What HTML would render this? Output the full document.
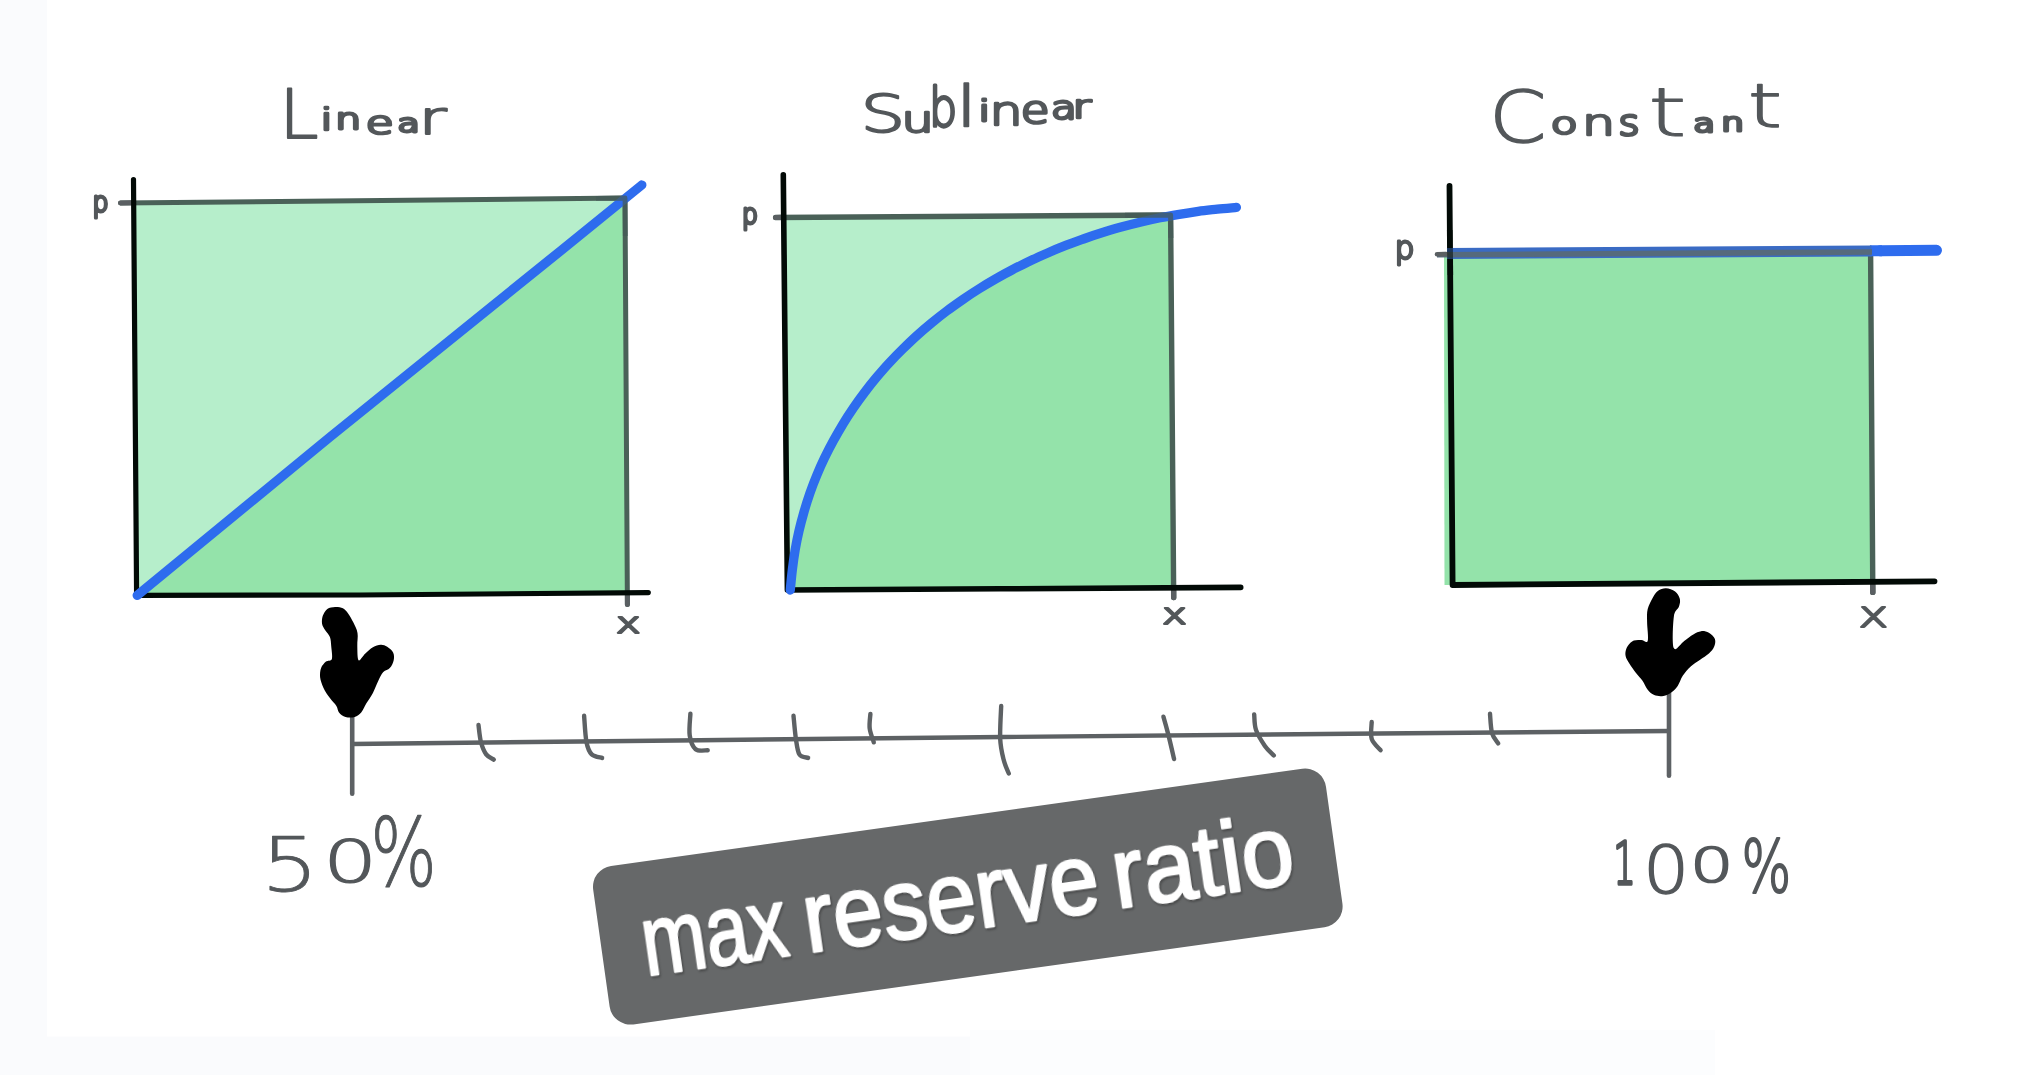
<!DOCTYPE html>
<html lang="en"><head><meta charset="utf-8"><title>max reserve ratio</title>
<style>
html,body{margin:0;padding:0;background:#fff;}
body{width:2022px;height:1075px;overflow:hidden;}
svg{display:block;}
</style></head>
<body>
<svg width="2022" height="1075" viewBox="0 0 2022 1075">
<rect width="2022" height="1075" fill="#fafbfd"/>
<rect x="47" y="0" width="1975" height="1036.5" fill="#ffffff"/>
<rect x="970" y="1030" width="745" height="45" fill="#fcfdfe"/>
<rect x="1715" y="1030" width="307" height="45" fill="#ffffff"/>
<path d="M136.5,595 L134.3,202.6 L625,198 L627.6,592.8 Z" fill="#b6eecb"/>
<path d="M137,595.5 L330,437 L494,304.6 L560,251.8 L625,198.6 L627.6,592.8 Z" fill="#94e3aa"/>
<path d="M120.5,203 L625,198 L627.4,604.5" fill="none" stroke="#4a6158" stroke-width="5" stroke-linecap="round" stroke-linejoin="round"/>
<path d="M120.5,203 L132,202.8" stroke="#5a5f62" stroke-width="5" stroke-linecap="round"/>
<path d="M627.4,596 L627.4,604.5" stroke="#5a5f62" stroke-width="5" stroke-linecap="round"/>
<path d="M133.5,179.6 L136.6,595.4 L360,595 L648.3,592.6" fill="none" stroke="#020a06" stroke-width="5.2" stroke-linecap="round" stroke-linejoin="round"/>
<path d="M137.2,595.3 L330,437 L494,304.6 L560,251.3 L641.8,185" fill="none" stroke="#2e6cee" stroke-width="9.3" stroke-linecap="round" stroke-linejoin="round"/>
<path d="M596,198.3 L625,198 L625.3,236" fill="none" stroke="#455a58" stroke-width="4.8" stroke-linejoin="round" opacity="0.72"/>
<path d="M788,590 L784.6,217.3 L1171,215 L1173.6,587.6 Z" fill="#b6eecb"/>
<path d="M790.3,590.0 C790.6,586.7 791.5,576.7 792.3,570.1 C793.1,563.5 794.0,556.8 795.1,550.3 C796.2,543.8 797.5,537.3 799.0,530.9 C800.5,524.5 802.2,518.2 804.0,511.9 C805.8,505.6 807.8,499.4 809.9,493.3 C812.0,487.2 814.3,481.1 816.8,475.2 C819.3,469.2 821.9,463.4 824.7,457.6 C827.5,451.8 830.4,446.1 833.5,440.5 C836.6,434.9 839.8,429.3 843.1,423.8 C846.5,418.3 850.0,413.0 853.6,407.7 C857.2,402.4 860.9,397.2 864.8,392.1 C868.7,387.0 872.7,382.0 876.8,377.1 C880.9,372.2 885.1,367.3 889.5,362.6 C893.9,357.9 898.4,353.3 903.0,348.8 C907.6,344.3 912.2,339.8 917.0,335.5 C921.8,331.2 926.7,327.0 931.7,322.9 C936.7,318.8 941.7,314.8 946.9,310.9 C952.1,307.0 957.4,303.3 962.7,299.6 C968.1,295.9 973.5,292.3 979.0,288.9 C984.5,285.4 990.1,282.1 995.7,278.9 C1001.3,275.7 1007.0,272.5 1012.8,269.5 C1018.6,266.5 1024.5,263.5 1030.4,260.7 C1036.3,257.9 1042.2,255.3 1048.2,252.7 C1054.2,250.1 1060.3,247.6 1066.4,245.2 C1072.5,242.8 1078.6,240.7 1084.8,238.5 C1091.0,236.3 1097.2,234.2 1103.4,232.3 C1109.6,230.4 1115.9,228.5 1122.2,226.8 C1128.5,225.1 1134.8,223.5 1141.1,222.0 C1147.4,220.5 1156.9,218.5 1160.1,217.8 L1171.5,216 L1173.6,587.6 L790,590 Z" fill="#94e3aa"/>
<path d="M775.6,217.5 L1170.6,215 L1173.7,597.6" fill="none" stroke="#4a6158" stroke-width="5.4" stroke-linecap="round" stroke-linejoin="round"/>
<path d="M775.6,217.5 L781,217.4" stroke="#5a5f62" stroke-width="5.2" stroke-linecap="round"/>
<path d="M1173.7,591 L1173.7,597.6" stroke="#5a5f62" stroke-width="5.2" stroke-linecap="round"/>
<path d="M783.3,174.8 L785.5,400 L787.4,590 L1000,588.8 L1240.7,587.4" fill="none" stroke="#020a06" stroke-width="5.6" stroke-linecap="round" stroke-linejoin="round"/>
<path d="M790.3,590.0 C790.6,586.7 791.5,576.7 792.3,570.1 C793.1,563.5 794.0,556.8 795.1,550.3 C796.2,543.8 797.5,537.3 799.0,530.9 C800.5,524.5 802.2,518.2 804.0,511.9 C805.8,505.6 807.8,499.4 809.9,493.3 C812.0,487.2 814.3,481.1 816.8,475.2 C819.3,469.2 821.9,463.4 824.7,457.6 C827.5,451.8 830.4,446.1 833.5,440.5 C836.6,434.9 839.8,429.3 843.1,423.8 C846.5,418.3 850.0,413.0 853.6,407.7 C857.2,402.4 860.9,397.2 864.8,392.1 C868.7,387.0 872.7,382.0 876.8,377.1 C880.9,372.2 885.1,367.3 889.5,362.6 C893.9,357.9 898.4,353.3 903.0,348.8 C907.6,344.3 912.2,339.8 917.0,335.5 C921.8,331.2 926.7,327.0 931.7,322.9 C936.7,318.8 941.7,314.8 946.9,310.9 C952.1,307.0 957.4,303.3 962.7,299.6 C968.1,295.9 973.5,292.3 979.0,288.9 C984.5,285.4 990.1,282.1 995.7,278.9 C1001.3,275.7 1007.0,272.5 1012.8,269.5 C1018.6,266.5 1024.5,263.5 1030.4,260.7 C1036.3,257.9 1042.2,255.3 1048.2,252.7 C1054.2,250.1 1060.3,247.6 1066.4,245.2 C1072.5,242.8 1078.6,240.7 1084.8,238.5 C1091.0,236.3 1097.2,234.2 1103.4,232.3 C1109.6,230.4 1115.9,228.5 1122.2,226.8 C1128.5,225.1 1134.8,223.5 1141.1,222.0 C1147.4,220.5 1153.8,219.1 1160.1,217.8 C1166.4,216.5 1172.8,215.4 1179.2,214.3 C1185.6,213.2 1191.9,212.2 1198.3,211.3 C1204.7,210.4 1211.1,209.8 1217.4,209.1 C1223.8,208.4 1233.2,207.7 1236.4,207.4" fill="none" stroke="#2e6cee" stroke-width="9.3" stroke-linecap="round" stroke-linejoin="round"/>
<path d="M1125,215.3 L1170.6,215 L1170.9,238" fill="none" stroke="#455a58" stroke-width="5" stroke-linejoin="round" opacity="0.72"/>
<path d="M1444.5,585 L1444,254 L1871,251 L1873,581.5 Z" fill="#94e3aa"/>
<path d="M1870.6,252 L1872.8,592.4" fill="none" stroke="#4a6158" stroke-width="5.4" stroke-linecap="round"/>
<path d="M1872.7,585 L1872.8,592.4" stroke="#5a5f62" stroke-width="5.4" stroke-linecap="round"/>
<path d="M1449.5,186 L1452.6,585 L1934.5,581.3" fill="none" stroke="#020a06" stroke-width="5.8" stroke-linecap="round" stroke-linejoin="round"/>
<path d="M1880,250.7 L1936.5,250.3" stroke="#2e6cee" stroke-width="11" stroke-linecap="round"/>
<path d="M1870,250.8 L1882,250.7" stroke="#2e6cee" stroke-width="11" stroke-linecap="butt"/>
<path d="M1447,253.6 L1871.5,250.9" stroke="#3a6bc4" stroke-width="11" stroke-linecap="butt"/>
<path d="M1437,254.8 L1872,252" stroke="#566a7c" stroke-width="5.6" stroke-linecap="butt"/>
<path d="M1437,254.2 L1446,254.1" stroke="#5a5f62" stroke-width="4.6" stroke-linecap="round"/>
<path d="M1449.8,230 L1450.3,275" stroke="#020a06" stroke-width="5.8" opacity="0.55"/>
<path d="M352.2,712 L352.2,793.7" stroke="#5d6164" stroke-width="4.6" stroke-linecap="round"/>
<path d="M1669,690 L1669,775.7" stroke="#5d6164" stroke-width="4.6" stroke-linecap="round"/>
<path d="M352,744 L700,740.2 L1003,737 L1350,733.8 L1669,731" fill="none" stroke="#5d6164" stroke-width="4.4" stroke-linejoin="round"/>
<path d="M478.5,725.0 C478.9,727.9 479.7,737.4 481.0,742.3 C482.3,747.2 484.1,751.5 486.2,754.4 C488.3,757.3 492.5,758.7 493.8,759.6" fill="none" stroke="#5d6164" stroke-width="4.4" stroke-linecap="round" stroke-linejoin="round"/>
<path d="M584.1,715.7 C584.5,720.1 585.2,735.8 586.5,742.3 C587.8,748.8 589.1,751.8 591.7,754.4 C594.3,757.0 600.4,757.3 602.1,757.9" fill="none" stroke="#5d6164" stroke-width="4.4" stroke-linecap="round" stroke-linejoin="round"/>
<path d="M690.4,713.6 C690.3,717.2 688.8,729.5 689.7,735.4 C690.6,741.3 692.6,746.7 695.6,749.2 C698.6,751.7 705.7,750.1 707.7,750.3" fill="none" stroke="#5d6164" stroke-width="4.4" stroke-linecap="round" stroke-linejoin="round"/>
<path d="M793.5,715.7 C793.9,719.6 794.9,732.3 795.9,738.8 C796.9,745.2 797.4,751.2 799.4,754.4 C801.4,757.6 806.6,757.3 808.1,757.9" fill="none" stroke="#5d6164" stroke-width="4.4" stroke-linecap="round" stroke-linejoin="round"/>
<path d="M870.4,713.9 C870.3,716.3 869.1,723.8 869.7,728.5 C870.3,733.2 873.1,740.0 873.8,742.3" fill="none" stroke="#5d6164" stroke-width="4.4" stroke-linecap="round" stroke-linejoin="round"/>
<path d="M1001.2,706.0 C1001.0,711.5 999.8,729.9 1000.2,738.8 C1000.6,747.7 1002.2,753.8 1003.6,759.6 C1005.0,765.4 1007.9,771.2 1008.8,773.5" fill="none" stroke="#5d6164" stroke-width="4.4" stroke-linecap="round" stroke-linejoin="round"/>
<path d="M1163.4,716.7 C1164.2,719.5 1166.2,726.3 1168.0,733.4 C1169.8,740.5 1173.1,754.8 1174.1,759.1" fill="none" stroke="#5d6164" stroke-width="4.4" stroke-linecap="round" stroke-linejoin="round"/>
<path d="M1254.2,714.5 C1254.5,717.1 1254.2,724.7 1256.0,729.9 C1257.8,735.1 1261.9,741.6 1264.9,745.9 C1267.9,750.2 1272.3,753.9 1273.8,755.5" fill="none" stroke="#5d6164" stroke-width="4.4" stroke-linecap="round" stroke-linejoin="round"/>
<path d="M1371.7,722.0 C1371.7,724.8 1370.2,734.1 1371.7,738.8 C1373.2,743.5 1379.1,748.3 1380.6,750.2" fill="none" stroke="#5d6164" stroke-width="4.4" stroke-linecap="round" stroke-linejoin="round"/>
<path d="M1490.0,713.8 C1490.3,717.1 1490.7,728.5 1492.1,733.4 C1493.5,738.3 1497.2,741.7 1498.2,743.4" fill="none" stroke="#5d6164" stroke-width="4.4" stroke-linecap="round" stroke-linejoin="round"/>
<path d="M335.1,606.9 C332.5,607.0 329.4,607.4 327.3,608.9 C325.2,610.4 323.6,613.6 322.7,616.0 C321.9,618.5 321.7,621.5 322.1,623.9 C322.5,626.3 324.1,628.2 325.4,630.4 C326.7,632.5 328.9,634.3 329.9,636.9 C330.9,639.5 330.9,642.3 331.2,646.0 C331.5,649.7 332.7,656.4 331.9,659.0 C331.0,661.6 327.8,660.1 326.0,661.6 C324.2,663.2 322.0,665.5 321.1,668.1 C320.1,670.8 319.8,674.0 320.1,677.3 C320.5,680.5 321.8,684.2 323.4,687.7 C325.0,691.2 327.7,695.1 329.9,698.1 C332.1,701.1 334.9,703.5 336.4,705.9 C337.9,708.3 337.5,710.6 339.0,712.4 C340.5,714.3 342.9,716.2 345.5,717.0 C348.1,717.7 352.1,717.7 354.7,717.0 C357.3,716.2 359.2,714.7 361.2,712.4 C363.1,710.1 364.4,706.6 366.4,703.3 C368.3,700.1 370.9,696.6 372.9,692.9 C374.8,689.2 376.4,684.6 378.1,681.2 C379.8,677.7 381.4,674.2 383.3,672.1 C385.3,669.9 388.1,670.1 389.8,668.1 C391.6,666.2 393.2,662.9 393.7,660.3 C394.3,657.7 394.2,654.8 393.1,652.5 C392.0,650.2 389.3,648.0 387.2,646.7 C385.2,645.4 383.1,644.6 380.7,644.7 C378.3,644.8 375.5,645.8 372.9,647.3 C370.3,648.8 367.5,651.6 365.1,653.8 C362.7,656.0 359.9,661.6 358.6,660.3 C357.3,659.0 357.4,650.6 357.3,646.0 C357.1,641.4 358.2,636.9 357.5,633.0 C356.9,629.1 354.9,625.8 353.4,622.6 C351.8,619.3 349.9,615.8 348.1,613.4 C346.4,611.1 345.1,609.3 342.9,608.2 C340.8,607.1 337.7,606.8 335.1,606.9Z" fill="#000"/>
<path d="M1666.0,588.2 C1663.1,588.1 1660.3,589.3 1658.1,590.8 C1656.0,592.4 1654.7,594.3 1652.9,597.4 C1651.2,600.4 1648.7,604.9 1647.7,609.1 C1646.7,613.2 1647.1,616.8 1647.1,622.1 C1647.1,627.4 1648.7,638.0 1647.7,641.0 C1646.7,644.0 1643.8,640.0 1641.2,640.1 C1638.6,640.1 1634.5,640.0 1632.1,641.4 C1629.7,642.7 1627.7,645.7 1626.6,648.1 C1625.5,650.6 1625.1,653.4 1625.6,656.0 C1626.1,658.6 1627.8,661.0 1629.5,663.8 C1631.2,666.6 1633.8,670.1 1636.0,672.9 C1638.2,675.7 1640.6,677.9 1642.5,680.7 C1644.5,683.5 1645.8,687.4 1647.7,689.8 C1649.7,692.2 1651.6,694.0 1654.2,695.0 C1656.8,696.1 1660.5,696.4 1663.4,695.9 C1666.2,695.5 1668.8,694.1 1671.2,692.4 C1673.6,690.8 1675.7,688.7 1677.7,685.9 C1679.6,683.1 1680.7,678.8 1682.9,675.5 C1685.1,672.2 1687.9,669.0 1690.7,666.4 C1693.5,663.8 1696.8,662.0 1699.8,659.9 C1702.9,657.7 1706.6,655.5 1708.9,653.4 C1711.3,651.2 1713.2,649.2 1714.1,646.8 C1715.1,644.5 1715.8,641.4 1714.9,639.0 C1714.1,636.7 1711.2,634.1 1708.9,632.8 C1706.6,631.5 1703.7,630.9 1701.1,631.2 C1698.5,631.5 1696.1,632.8 1693.3,634.5 C1690.5,636.1 1687.4,638.7 1684.2,641.0 C1680.9,643.3 1675.5,652.2 1673.8,648.1 C1672.0,644.1 1672.9,623.8 1673.8,616.9 C1674.6,609.9 1678.0,609.5 1679.0,606.5 C1680.0,603.4 1680.4,601.1 1679.8,598.7 C1679.1,596.2 1677.4,593.2 1675.1,591.5 C1672.8,589.8 1668.8,588.3 1666.0,588.2Z" fill="#000"/>
<g transform="translate(967.8,896.6) rotate(-8)"><rect x="-370" y="-80" width="740" height="160" rx="21" ry="21" fill="#666869"/></g>
<g transform="translate(650.1,975.3) rotate(-8.15)" style="filter:drop-shadow(1.5px 2px 1.2px rgba(30,30,30,0.45))"><text aria-label="max reserve ratio" font-family="Liberation Sans, sans-serif" font-size="101" fill="#ffffff" stroke="#ffffff" stroke-width="2.6" stroke-linejoin="round" ><tspan x="-3.8" y="0.0" textLength="145.9" lengthAdjust="spacingAndGlyphs">max</tspan> <tspan x="159.6" y="0.0" textLength="297.6" lengthAdjust="spacingAndGlyphs">reserve</tspan> <tspan x="471.4" y="0.0" textLength="182.6" lengthAdjust="spacingAndGlyphs">ratio</tspan></text></g>
<text aria-label="Linear" opacity="0.999" font-family="DejaVu Sans Light, DejaVu Sans, Liberation Sans, sans-serif" font-weight="200" fill="#53575a" stroke="#53575a" stroke-linejoin="round" stroke-linecap="round"><tspan x="279.2" y="137.5" font-size="67.3" textLength="39.3" lengthAdjust="spacingAndGlyphs" stroke-width="1.8">L</tspan><tspan x="320.6" y="130.0" font-size="30.4" textLength="12.2" lengthAdjust="spacingAndGlyphs" stroke-width="2.7">i</tspan><tspan x="335.3" y="129.3" font-size="28.2" textLength="25.9" lengthAdjust="spacingAndGlyphs" stroke-width="2.8">n</tspan><tspan x="365.8" y="134.1" font-size="31.2" textLength="27.9" lengthAdjust="spacingAndGlyphs" stroke-width="2.7">e</tspan><tspan x="397.6" y="132.1" font-size="25.0" textLength="22.2" lengthAdjust="spacingAndGlyphs" stroke-width="2.9">a</tspan><tspan x="418.5" y="133.6" font-size="47.0" textLength="28.0" lengthAdjust="spacingAndGlyphs" stroke-width="2.0">r</tspan></text>
<text aria-label="Sublinear" opacity="0.999" font-family="DejaVu Sans Light, DejaVu Sans, Liberation Sans, sans-serif" font-weight="200" fill="#53575a" stroke="#53575a" stroke-linejoin="round" stroke-linecap="round"><tspan x="860.6" y="131.7" font-size="51.6" textLength="44.8" lengthAdjust="spacingAndGlyphs" stroke-width="1.9">S</tspan><tspan x="901.5" y="131.7" font-size="35.2" textLength="32.3" lengthAdjust="spacingAndGlyphs" stroke-width="2.5">u</tspan><tspan x="929.0" y="125.7" font-size="52.6" textLength="28.2" lengthAdjust="spacingAndGlyphs" stroke-width="3.0">b</tspan><tspan x="955.3" y="126.4" font-size="56.3" textLength="22.7" lengthAdjust="spacingAndGlyphs" stroke-width="1.5">l</tspan><tspan x="978.4" y="120.9" font-size="29.1" textLength="11.7" lengthAdjust="spacingAndGlyphs" stroke-width="2.8">i</tspan><tspan x="989.4" y="125.3" font-size="40.2" textLength="33.2" lengthAdjust="spacingAndGlyphs" stroke-width="2.5">n</tspan><tspan x="1020.8" y="123.2" font-size="36.4" textLength="28.7" lengthAdjust="spacingAndGlyphs" stroke-width="2.7">e</tspan><tspan x="1051.0" y="119.1" font-size="31.2" textLength="25.8" lengthAdjust="spacingAndGlyphs" stroke-width="2.8">a</tspan><tspan x="1072.6" y="118.3" font-size="31.1" textLength="18.6" lengthAdjust="spacingAndGlyphs" stroke-width="2.7">r</tspan></text>
<text aria-label="Constant" opacity="0.999" font-family="DejaVu Sans Light, DejaVu Sans, Liberation Sans, sans-serif" font-weight="200" fill="#53575a" stroke="#53575a" stroke-linejoin="round" stroke-linecap="round"><tspan x="1489.1" y="141.5" font-size="70.4" textLength="57.6" lengthAdjust="spacingAndGlyphs" stroke-width="1.4">C</tspan><tspan x="1550.7" y="133.8" font-size="30.3" textLength="26.9" lengthAdjust="spacingAndGlyphs" stroke-width="2.7">o</tspan><tspan x="1581.9" y="135.3" font-size="36.2" textLength="33.2" lengthAdjust="spacingAndGlyphs" stroke-width="2.4">n</tspan><tspan x="1618.4" y="135.4" font-size="35.9" textLength="21.1" lengthAdjust="spacingAndGlyphs" stroke-width="3.0">s</tspan><tspan x="1648.0" y="136.0" font-size="68.1" textLength="38.7" lengthAdjust="spacingAndGlyphs" stroke-width="1.0">t</tspan><tspan x="1693.6" y="132.2" font-size="24.1" textLength="21.4" lengthAdjust="spacingAndGlyphs" stroke-width="3.0">a</tspan><tspan x="1721.2" y="130.8" font-size="24.7" textLength="22.7" lengthAdjust="spacingAndGlyphs" stroke-width="3.0">n</tspan><tspan x="1747.8" y="126.6" font-size="60.5" textLength="34.4" lengthAdjust="spacingAndGlyphs" stroke-width="1.3">t</tspan></text>
<text aria-label="p" opacity="0.999" font-family="DejaVu Sans Light, DejaVu Sans, Liberation Sans, sans-serif" font-weight="200" fill="#53575a" stroke="#53575a" stroke-linejoin="round" stroke-linecap="round"><tspan x="92.5" y="212.1" font-size="27.8" textLength="16.0" lengthAdjust="spacingAndGlyphs" stroke-width="3.2">p</tspan></text>
<text aria-label="p" opacity="0.999" font-family="DejaVu Sans Light, DejaVu Sans, Liberation Sans, sans-serif" font-weight="200" fill="#53575a" stroke="#53575a" stroke-linejoin="round" stroke-linecap="round"><tspan x="741.9" y="224.1" font-size="27.6" textLength="15.9" lengthAdjust="spacingAndGlyphs" stroke-width="3.2">p</tspan></text>
<text aria-label="p" opacity="0.999" font-family="DejaVu Sans Light, DejaVu Sans, Liberation Sans, sans-serif" font-weight="200" fill="#53575a" stroke="#53575a" stroke-linejoin="round" stroke-linecap="round"><tspan x="1394.8" y="258.5" font-size="31.2" textLength="19.7" lengthAdjust="spacingAndGlyphs" stroke-width="2.8">p</tspan></text>
<text aria-label="x" opacity="0.999" font-family="DejaVu Sans Light, DejaVu Sans, Liberation Sans, sans-serif" font-weight="200" fill="#53575a" stroke="#53575a" stroke-linejoin="round" stroke-linecap="round"><tspan x="616.0" y="632.7" font-size="28.5" textLength="24.5" lengthAdjust="spacingAndGlyphs" stroke-width="2.2">x</tspan></text>
<text aria-label="x" opacity="0.999" font-family="DejaVu Sans Light, DejaVu Sans, Liberation Sans, sans-serif" font-weight="200" fill="#53575a" stroke="#53575a" stroke-linejoin="round" stroke-linecap="round"><tspan x="1162.3" y="624.3" font-size="28.5" textLength="24.5" lengthAdjust="spacingAndGlyphs" stroke-width="2.2">x</tspan></text>
<text aria-label="x" opacity="0.999" font-family="DejaVu Sans Light, DejaVu Sans, Liberation Sans, sans-serif" font-weight="200" fill="#53575a" stroke="#53575a" stroke-linejoin="round" stroke-linecap="round"><tspan x="1858.4" y="626.7" font-size="34.7" textLength="29.8" lengthAdjust="spacingAndGlyphs" stroke-width="1.9">x</tspan></text>
<text aria-label="50%" opacity="0.999" font-family="DejaVu Sans Light, DejaVu Sans, Liberation Sans, sans-serif" font-weight="200" fill="#53575a" stroke="#53575a" stroke-linejoin="round" stroke-linecap="round"><tspan x="261.1" y="890.6" font-size="75.5" textLength="57.7" lengthAdjust="spacingAndGlyphs" stroke-width="0.8">5</tspan><tspan x="322.9" y="881.8" font-size="59.0" textLength="54.4" lengthAdjust="spacingAndGlyphs" stroke-width="1.2">0</tspan><tspan x="370.2" y="886.3" font-size="93.7" textLength="66.6" lengthAdjust="spacingAndGlyphs" stroke-width="1.1">%</tspan></text>
<text aria-label="100%" opacity="0.999" font-family="DejaVu Sans Light, DejaVu Sans, Liberation Sans, sans-serif" font-weight="200" fill="#53575a" stroke="#53575a" stroke-linejoin="round" stroke-linecap="round"><tspan x="1613.2" y="883.7" font-size="59.0" textLength="22.5" lengthAdjust="spacingAndGlyphs" stroke-width="3.3">1</tspan><tspan x="1642.9" y="892.6" font-size="65.2" textLength="46.3" lengthAdjust="spacingAndGlyphs" stroke-width="1.4">0</tspan><tspan x="1690.0" y="882.2" font-size="47.2" textLength="43.5" lengthAdjust="spacingAndGlyphs" stroke-width="1.7">0</tspan><tspan x="1741.5" y="891.6" font-size="72.4" textLength="49.7" lengthAdjust="spacingAndGlyphs" stroke-width="2.2">%</tspan></text>
</svg>
</body></html>
